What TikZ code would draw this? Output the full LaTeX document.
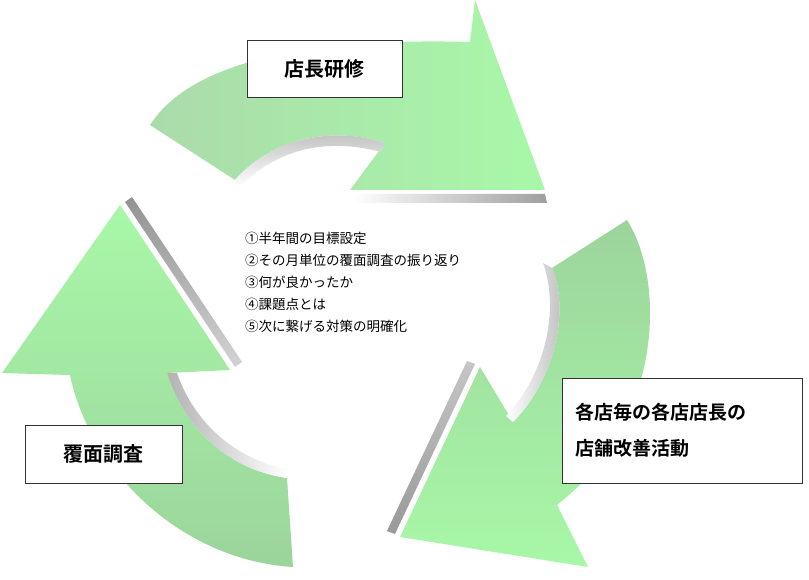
\documentclass[tikz,border=0pt]{standalone}
\usepackage{fontspec}
\setmainfont{Noto Sans CJK JP}
\newfontfamily\cjkb{Noto Sans CJK JP Bold}
\begin{document}
\begin{tikzpicture}[x=1pt,y=-1pt,
  lbl/.style={draw=black!80,fill=white,font=\cjkb\fontsize{20}{26}\selectfont,align=left,inner sep=0pt},
  lst/.style={anchor=west,font=\fontsize{13.5}{15}\selectfont,inner sep=0pt}]
\definecolor{gtail}{HTML}{9CD49C}
\definecolor{ghead}{HTML}{A8F8A8}
\useasboundingbox (0,0) rectangle (809,580);
\fill[white] (0,0) rectangle (809,580);
% top arrow
\shade[left color=gtail!85!white,right color=ghead] (150,125) .. controls (195,55) and (330,38) .. (470,42) -- (475,0) -- (545,190) -- (350,190) -- (385,143) .. controls (330,125) and (270,140) .. (235,180) -- cycle;
\shade[top color=gray!55,bottom color=white] (235,180) .. controls (270,140) and (330,125) .. (385,143) -- (381,152) .. controls (325,137) and (275,150) .. (240,187) -- cycle;
\shade[left color=white,right color=gray!75] (352,194) -- (545,194) -- (547,203) -- (356,203) -- cycle;
% right arrow
\shade[top color=gtail,bottom color=ghead] (627,220) .. controls (665,280) and (665,420) .. (557,505) -- (588,567) -- (400,537) -- (480,367) -- (513,422) .. controls (555,380) and (570,310) .. (552,268) -- cycle;
\shade[left color=white,right color=gray!55] (513,422) .. controls (555,380) and (570,310) .. (552,268) -- (543,263) .. controls (560,310) and (545,375) .. (506,416) -- cycle;
\shade[top color=gray!45,bottom color=gray!80] (475,364) -- (395,534) -- (387,531) -- (467,361) -- cycle;
% left arrow
\shade[top color=ghead,bottom color=gtail] (293,567) .. controls (180,560) and (90,470) .. (70,375) -- (2,373) -- (120,205) -- (230,370) -- (167,373) .. controls (185,430) and (230,470) .. (287,478) -- cycle;
\shade[left color=gray!60,right color=white] (167,373) .. controls (185,430) and (230,470) .. (287,478) -- (287,469) .. controls (238,460) and (195,425) .. (177,373) -- cycle;
\shade[top color=gray!85,bottom color=gray!35] (125,202) -- (235,367) -- (242,362) -- (132,197) -- cycle;
% labels
\node[lbl,minimum width=155pt,minimum height=57pt,align=center] (kensyu) at (324.5,68.5) {店長研修};
\node[lbl,minimum width=157pt,minimum height=58pt,align=center] (fukumen) at (103.5,454) {覆面調査};
\node[lbl,minimum width=240pt,minimum height=105pt,text width=214pt,font=\cjkb\fontsize{19}{36}\selectfont] (kaizen) at (682,430.5) {各店毎の各店店長の\\店舗改善活動};
\node[lst] (l1) at (245,238) {①半年間の目標設定};
\node[lst] (l2) at (245,260) {②その月単位の覆面調査の振り返り};
\node[lst] (l3) at (245,282) {③何が良かったか};
\node[lst] (l4) at (245,304) {④課題点とは};
\node[lst] (l5) at (245,326) {⑤次に繋げる対策の明確化};
\end{tikzpicture}
\end{document}
